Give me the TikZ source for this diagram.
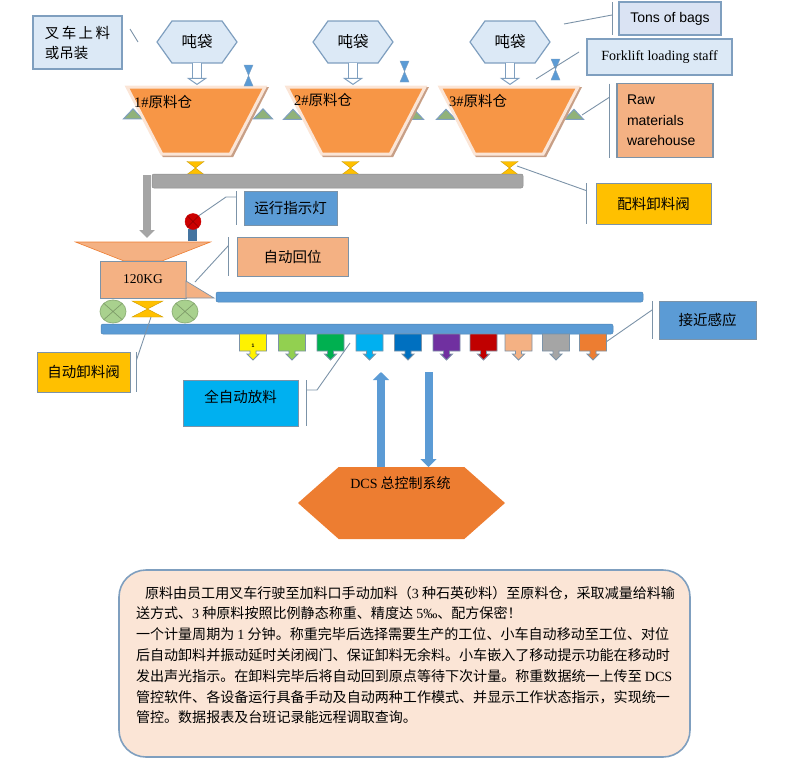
\documentclass[tikz,border=0pt]{standalone}
\usepackage{fontspec}
\usepackage{tikz}
\usepackage{color}
\usetikzlibrary{positioning}
\usetikzlibrary{arrows.meta}
\usetikzlibrary{shapes.geometric}
\usetikzlibrary{shapes.symbols}
\usetikzlibrary{shapes.arrows}
\setmainfont{Liberation Serif}
\newfontfamily\cjk{Noto Sans CJK SC}
\newfontfamily\lat{Liberation Serif}
\newfontfamily\sanslat{Liberation Sans}
\definecolor{edgeblue}{HTML}{7F9FBF}
\definecolor{paleblue}{HTML}{DCE9F6}
\definecolor{tonsblue}{HTML}{DAE3F3}
\definecolor{railblue}{HTML}{5B9BD5}
\definecolor{binorange}{HTML}{F79646}
\definecolor{binrim}{HTML}{FBE5D6}
\definecolor{binshadow}{HTML}{C89F86}
\definecolor{peach}{HTML}{F4B183}
\definecolor{gold}{HTML}{FFC000}
\definecolor{skyblue}{HTML}{00B0F0}
\definecolor{dcsorange}{HTML}{ED7D31}
\definecolor{barline}{HTML}{7C93A8}
\definecolor{feetgreen}{HTML}{A9D18E}
\definecolor{railgrey}{HTML}{A5A5A5}
\definecolor{chutelime}{HTML}{92D050}
\definecolor{chutegreen}{HTML}{00B050}
\definecolor{chuteblue}{HTML}{0070C0}
\definecolor{chutepurple}{HTML}{7030A0}
\definecolor{chutered}{HTML}{C00000}

\begin{document}
\begin{tikzpicture}[x=1pt,y=-1pt,
every node/.style={inner sep=0pt, outer sep=0pt},
cntext/.style={font=\fontsize{14.5}{20}\selectfont\cjk},
hexnode/.style={signal, signal to=west and east, signal pointer angle=109, draw=edgeblue, fill=paleblue, line width=1.2pt, minimum width=80pt, minimum height=42pt, font=\fontsize{15.5}{18}\selectfont\cjk},
binnode/.style={trapezium, shape border rotate=180, inner sep=1pt, trapezium stretches=true, trapezium angle=63, minimum width=138pt, minimum height=67pt, fill=binorange, draw=binrim, line width=3pt},
shadownode/.style={trapezium, shape border rotate=180, inner sep=1pt, trapezium stretches=true, trapezium angle=63, minimum width=142pt, minimum height=70pt, fill=binshadow},
feetnode/.style={isosceles triangle, inner sep=1pt, isosceles triangle stretches=true, shape border rotate=90, minimum width=19pt, minimum height=10pt, fill=feetgreen!85!black, draw=edgeblue, line width=1pt},
labelnode/.style={rectangle, draw=barline, line width=0.9pt, cntext},
railnode/.style={rectangle, rounded corners=2pt, fill=railblue, draw=railblue!85!black, line width=0.5pt},
wheelnode/.style={ellipse, minimum width=26pt, minimum height=23pt, fill=feetgreen, draw=feetgreen!85!black, line width=0.8pt},
chutenode/.style={arrow box, inner sep=1pt, arrow box arrows={south:9pt}, arrow box shaft width=6pt, arrow box head extend=3pt, arrow box tip angle=90, minimum width=27pt, minimum height=17pt, draw=barline, line width=0.9pt},
valve/.pic={\path[pic actions] (-1,-1) -- (1,-1) -- (-1,1) -- (1,1) -- cycle;},
hollowarrow/.style={draw=edgeblue, line width=1pt, double=white, double distance=8pt, -{Triangle[fill=white,length=7pt,width=20pt]}, shorten >=2pt},
greyarrow/.style={draw=railgrey, line width=8pt, -{Triangle[length=8pt,width=15pt]}, shorten >=4pt},
bluearrow/.style={draw=railblue, line width=8pt, -{Triangle[length=8pt,width=16pt]}},
calloutline/.style={draw=barline, line width=0.9pt},
]
\useasboundingbox (0,0) rectangle (792,774);

%Bags
\node[hexnode]          (bag1)  at (197,42)               {吨袋};
\node[hexnode]          (bag2)  [right=76pt of bag1]      {吨袋};
\node[hexnode]          (bag3)  [right=77pt of bag2]      {吨袋};

%Bins
\node[feetnode]         (foot1) at (133,115)  {};
\node[feetnode]         (foot2) at (263,115)  {};
\node[feetnode]         (foot3) at (293,115.5){};
\node[feetnode]         (foot4) at (414,115.5){};
\node[feetnode]         (foot5) at (446,115.5){};
\node[feetnode]         (foot6) at (574,115.5){};
\node[shadownode]       (shadow1) at (198,122) {};
\node[shadownode]       (shadow2) at (358,122) {};
\node[shadownode]       (shadow3) at (511,122) {};
\node[binnode]          (bin1)  at (196,120.5) {};
\node[binnode]          (bin2)  at (356,120.5) {};
\node[binnode]          (bin3)  at (509,120.5) {};
\node[cntext]           (name1) at (163,102)   {{\lat 1\#}原料仓};
\node[cntext]           (name2) at (323,100)   {{\lat 2\#}原料仓};
\node[cntext]           (name3) at (478,101)   {{\lat 3\#}原料仓};

%Valves
\pic[fill=railblue, draw=edgeblue, xscale=4.5, yscale=10.5] (top1) at (248.5,75.5) {valve};
\pic[fill=railblue, draw=edgeblue, xscale=4.5, yscale=10.5] (top2) at (404.5,71.5) {valve};
\pic[fill=railblue, draw=edgeblue, xscale=4.5, yscale=10.5] (top3) at (555.5,69.5) {valve};
\pic[fill=gold, draw=gold!80!black, xscale=8.5, yscale=6.5] (low1) at (195.5,168) {valve};
\pic[fill=gold, draw=gold!80!black, xscale=8.5, yscale=6.5] (low2) at (350.5,168) {valve};
\pic[fill=gold, draw=gold!80!black, xscale=8.5, yscale=6.5] (low3) at (509.5,168) {valve};
\pic[fill=gold, draw=gold!80!black, xscale=15.5, yscale=8] (low4) at (147.5,309) {valve};

%Grey conveyor
\node[railnode, fill=railgrey, draw=railgrey!85!black, minimum width=371pt, minimum height=14pt] (greybar) at (337.5,181) {};
\coordinate (greystart) at (147,175);

%Trolley
\node[trapezium, shape border rotate=180, inner sep=1pt, trapezium stretches=true, trapezium angle=38, minimum width=135pt, minimum height=19pt, fill=peach, draw=dcsorange, line width=0.6pt] (hopper) at (143,251.5) {};
\node[rectangle, minimum width=86pt, minimum height=37pt, fill=peach, draw=barline, line width=0.8pt, font=\fontsize{13.5}{15}\selectfont] (scale) at (143,279.5) {120KG};
\node[rectangle, minimum width=9pt, minimum height=12pt, fill=railblue!75!black] (stem) at (192.5,235) {};
\node[circle, minimum size=16pt, fill=red!80!black, draw=red!80!black] (lamp) at (193,221.5) {};
\node[wheelnode]        (wheel1) at (113,311.5) {};
\node[wheelnode]        (wheel2) at (185,311.5) {};
\draw[fill=peach, draw=barline, line width=0.7pt] (scale.east |- 0,281) -- (214,298) -- (scale.south east) -- cycle;

%Rails
\node[railnode, minimum width=427pt, minimum height=10pt] (upperrail) at (429.5,297) {};
\node[railnode, minimum width=512pt, minimum height=10pt] (lowerrail) at (357,329) {};

%Chutes
\node[chutenode, fill=yellow] (chute1) at (253,342.5) {};
\node[chutenode, fill=chutelime] (chute2) [right=12pt of chute1] {};
\node[chutenode, fill=chutegreen] (chute3) [right=11.5pt of chute2] {};
\node[chutenode, fill=skyblue] (chute4) [right=12pt of chute3] {};
\node[chutenode, fill=chuteblue] (chute5) [right=11.5pt of chute4] {};
\node[chutenode, fill=chutepurple] (chute6) [right=11.5pt of chute5] {};
\node[chutenode, fill=chutered] (chute7) [right=10pt of chute6] {};
\node[chutenode, fill=peach] (chute8) [right=8pt of chute7] {};
\node[chutenode, fill=railgrey] (chute9) [right=10.5pt of chute8] {};
\node[chutenode, fill=dcsorange] (chute10) [right=10pt of chute9] {};
\node[font=\sanslat\bfseries\fontsize{5}{5}\selectfont] (chutemark) at (253,346) {1};

%Control system
\node[signal, signal to=west and east, signal pointer angle=83, minimum width=207pt, minimum height=72pt, fill=dcsorange] (dcs) at (401.5,503) {};
\node[font=\fontsize{14}{16}\selectfont\cjk] (dcstext) at (400.5,483) {{\lat DCS} 总控制系统};
\coordinate (uptip) at (381,372);
\coordinate (downtail) at (428.5,372);

%Labels
\node[labelnode, draw=edgeblue, line width=1.2pt, fill=paleblue, minimum width=89pt, minimum height=53pt, align=left] (forkcn) at (77.5,42.5) {叉\,车\,上\,料\\或吊装};
\node[labelnode, draw=edgeblue, line width=1.2pt, fill=tonsblue, minimum width=102pt, minimum height=33pt, font=\fontsize{14}{16}\selectfont\sanslat] (tons) at (670,18.5) {Tons of bags};
\node[labelnode, draw=edgeblue, line width=1.2pt, fill=paleblue, minimum width=145pt, minimum height=36pt, font=\fontsize{14}{16}\selectfont] (forken) at (659.5,57) {Forklift loading staff};
\node[labelnode, fill=peach, line width=1.2pt, minimum width=96pt, minimum height=74pt, text width=76pt, align=left, font=\fontsize{14}{20.5}\selectfont\sanslat] (raw) at (665,120.5) {Raw\\materials\\warehouse};
\node[labelnode, fill=gold, minimum width=115pt, minimum height=41pt] (dosing) at (653.5,203.5) {配料卸料阀};
\node[labelnode, fill=railblue, minimum width=93pt, minimum height=34pt] (runlamp) at (290.5,208) {运行指示灯};
\node[labelnode, fill=peach, minimum width=111pt, minimum height=39pt] (homing) at (292.5,256.5) {自动回位};
\node[labelnode, fill=gold, minimum width=93pt, minimum height=40pt] (unload) at (83.5,372) {自动卸料阀};
\node[labelnode, fill=skyblue, minimum width=115pt, minimum height=46pt, text depth=14pt] (release) at (240.5,403) {全自动放料};
\node[labelnode, fill=railblue, minimum width=97pt, minimum height=38pt] (proximity) at (707.5,320) {接近感应};

%Note
\node[rectangle, rounded corners=27pt, minimum width=571pt, minimum height=187pt, fill=binrim, draw=edgeblue, line width=1.6pt] (notebox) at (404.5,663.5) {};
\node[anchor=north west, align=left, font=\fontsize{14.05}{20.8}\selectfont\cjk] (notetext) at (136,586) {\hspace*{9pt}原料由员工用叉车行驶至加料口手动加料（{\lat 3} 种石英砂料）至原料仓，采取减量给料输\\
送方式、{\lat 3} 种原料按照比例静态称重、精度达 {\lat 5‰}、配方保密！\\
一个计量周期为 {\lat 1} 分钟。称重完毕后选择需要生产的工位、小车自动移动至工位、对位\\
后自动卸料并振动延时关闭阀门、保证卸料无余料。小车嵌入了移动提示功能在移动时\\
发出声光指示。在卸料完毕后将自动回到原点等待下次计量。称重数据统一上传至 {\lat DCS}\\
管控软件、各设备运行具备手动及自动两种工作模式、并显示工作状态指示，实现统一\\
管控。数据报表及台班记录能远程调取查询。};

%Lines
\draw[hollowarrow] (bag1.south) -- (bin1.north -| bag1.south);
\draw[hollowarrow] (bag2.south) -- (bin2.north -| bag2.south);
\draw[hollowarrow] (bag3.south) -- (bin3.north -| bag3.south);
\draw[greyarrow] (greystart) -- (greystart |- hopper.north);
\draw[bluearrow] (uptip |- dcs.north) -- (uptip);
\draw[bluearrow] (downtail) -- (downtail |- dcs.north);
\draw[draw=red!55!black, line width=0.5pt] (lamp.north west) -- (lamp.south east) (lamp.north east) -- (lamp.south west);
\draw[draw=feetgreen!75!black, line width=0.7pt] (wheel1.north west) -- (wheel1.south east) (wheel1.north east) -- (wheel1.south west);
\draw[draw=feetgreen!75!black, line width=0.7pt] (wheel2.north west) -- (wheel2.south east) (wheel2.north east) -- (wheel2.south west);

%Callouts
\coordinate (forktick) at (130,29);
\coordinate (forktickend) at (138,42);
\coordinate (tonsend) at (564,24);
\coordinate (forkenend) at (536,79);
\coordinate (rawend) at (582,115);
\coordinate (dosingend) at (517,166);
\coordinate (homingend) at (195,282);
\coordinate (unloadend) at (151,317);
\coordinate (releaseend) at (350,343);
\coordinate (proximityend) at (606,342);
\draw[calloutline] (forktick) -- (forktickend);
\draw[calloutline] ([xshift=-7pt]tons.north west) -- ([xshift=-7pt]tons.south west);
\draw[calloutline] ([xshift=-7pt,yshift=3.5pt]tons.west) -- (tonsend);
\draw[calloutline] ([xshift=-8pt,yshift=5pt]forken.west) -- (forkenend);
\draw[calloutline] ([xshift=-8pt]raw.north west) -- ([xshift=-8pt]raw.south west);
\draw[calloutline] ([xshift=-8pt,yshift=23pt]raw.west) -- (rawend);
\draw[calloutline] ([xshift=-10pt]dosing.north west) -- ([xshift=-10pt]dosing.south west);
\draw[calloutline] ([xshift=-10pt,yshift=13pt]dosing.west) -- (dosingend);
\draw[calloutline] ([xshift=-8pt]runlamp.north west) -- ([xshift=-8pt]runlamp.south west);
\draw[calloutline] ([xshift=-8pt,yshift=11pt]runlamp.west) -- ++(-10,0) -- (lamp.north east);
\draw[calloutline] ([xshift=-8.5pt]homing.north west) -- ([xshift=-8.5pt]homing.south west);
\draw[calloutline] ([xshift=-8.5pt,yshift=11pt]homing.west) -- (homingend);
\draw[calloutline] ([xshift=6.5pt]unload.north east) -- ([xshift=6.5pt]unload.south east);
\draw[calloutline] ([xshift=6.5pt,yshift=12pt]unload.east) -- (unloadend);
\draw[calloutline] ([xshift=8pt]release.north east) -- ([xshift=8pt]release.south east);
\draw[calloutline] ([xshift=8pt,yshift=13pt]release.east) -- ++(11,0) -- (releaseend);
\draw[calloutline] ([xshift=-7pt]proximity.north west) -- ([xshift=-7pt]proximity.south west);
\draw[calloutline] ([xshift=-7pt,yshift=10pt]proximity.west) -- (proximityend);
\end{tikzpicture}
\end{document}
